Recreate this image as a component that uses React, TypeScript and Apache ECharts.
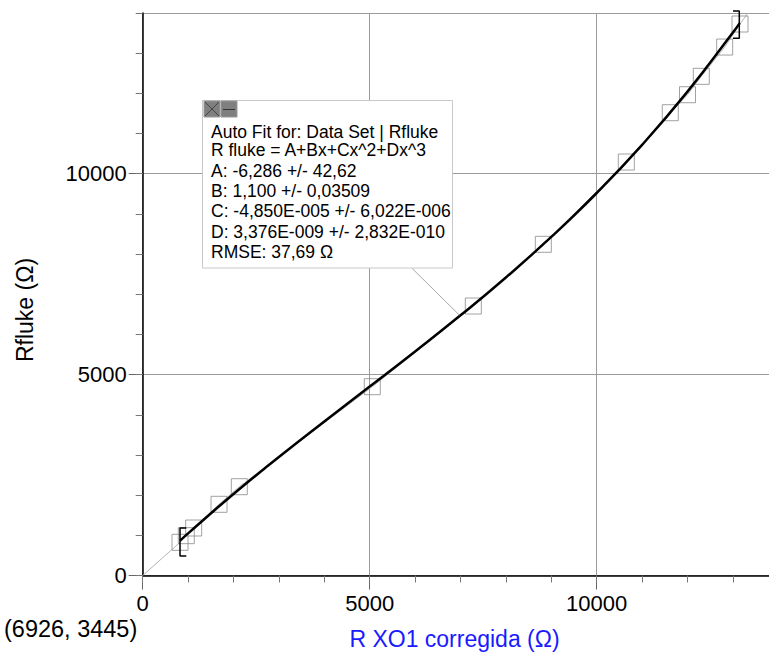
import React, { useEffect, useRef } from 'react';
import * as echarts from 'echarts';

// Measured data points (R XO1 corregida, Rfluke)
const pointX = [822, 960, 1123, 1681, 2128, 5057, 7282, 8824, 10652, 11621, 12000, 12304, 12819, 13157];
const pointY = [826, 991, 1182, 1772, 2210, 4699, 6707, 8243, 10291, 11518, 11966, 12424, 13153, 13726];

// Fitted curve
const fitX = [822, 1000, 2000, 3000, 4000, 5000, 6000, 7000, 8000, 9000, 10000, 11000, 12000, 13000, 13150];
const fitY = [867, 1049, 2027, 2948, 3834, 4703, 5577, 6475, 7418, 8426, 9520, 10719, 12043, 13514, 13749];

// Thin gray connecting line (origin -> points -> top edge)
const guideX = [0, ...pointX, 13333];
const guideY = [0, ...pointY, 14000];

// Fit range brackets
const bracketLeftX = [960, 822, 822, 960];
const bracketLeftY = [1182, 1182, 485, 485];
const bracketRightX = [13002, 13141, 13141, 13002];
const bracketRightY = [14049, 14049, 13370, 13370];

const fitLines = [
  'Auto Fit for: Data Set | Rfluke',
  'R fluke = A+Bx+Cx^2+Dx^3',
  'A: -6,286 +/- 42,62',
  'B: 1,100 +/- 0,03509',
  'C: -4,850E-005 +/- 6,022E-006',
  'D: 3,376E-009 +/- 2,832E-010',
  'RMSE: 37,69 Ω',
];
const fitLineY = [132, 150, 171, 191, 211, 231.5, 251.5];
const cursorLabel = '(6926, 3445)';
const xName = 'R XO1 corregida (Ω)';
const yName = 'Rfluke (Ω)';

const FONT = '"Liberation Sans", Arial, sans-serif';
const OY = 40; // container is shifted up by this amount so grids can extend past the page edge

const pairs = (xs: number[], ys: number[]) => xs.map((x, i) => [x, ys[i]]);
const plain = (v: number) => String(v);

export default function App() {
  const ref = useRef<HTMLDivElement>(null);
  useEffect(() => {
    if (!ref.current) return;
    const chart = echarts.init(ref.current, null, { renderer: 'svg' });
    const gridLeft = 142.7;
    const gridW = 635.6;
    const option: any = {
      animation: false,
      backgroundColor: '#fff',
      grid: [
        { left: gridLeft, top: 13 + OY, width: gridW, height: 562.5 },
        { left: gridLeft, top: -27.2 + OY, width: gridW, height: 602.7 },
      ],
      xAxis: [
        {
          gridIndex: 0, type: 'value', min: 0, max: 14000, interval: 5000, position: 'bottom',
          axisLine: { show: true, onZero: false, lineStyle: { color: '#000', width: 1.5 } },
          axisTick: { show: true, length: 14, lineStyle: { color: '#666', width: 1 } },
          axisLabel: { show: true, margin: 17, fontSize: 22, color: '#000', fontFamily: FONT, showMaxLabel: false, formatter: plain },
          splitLine: { show: true, lineStyle: { color: '#9a9a9a', width: 1 } },
        },
        {
          gridIndex: 0, type: 'value', min: 0, max: 14000, interval: 1000, position: 'bottom',
          axisLine: { show: true, onZero: false, lineStyle: { color: 'rgba(0,0,0,0)' } },
          axisTick: { show: true, length: 7, lineStyle: { color: '#777', width: 1 } },
          axisLabel: { show: false },
          splitLine: { show: false },
        },
        { gridIndex: 1, type: 'value', min: 0, max: 14000, show: false },
      ],
      yAxis: [
        {
          gridIndex: 0, type: 'value', min: 0, max: 14000, interval: 5000, position: 'left',
          axisLine: { show: true, onZero: false, lineStyle: { color: '#000', width: 1.5 } },
          axisTick: { show: false },
          axisLabel: { show: false },
          splitLine: { show: true, lineStyle: { color: '#9a9a9a', width: 1 } },
        },
        {
          gridIndex: 1, type: 'value', min: 0, max: 15000, interval: 5000, position: 'left',
          axisLine: { show: true, onZero: false, lineStyle: { color: 'rgba(0,0,0,0)' } },
          axisTick: { show: true, length: 14, lineStyle: { color: '#666', width: 1 } },
          axisLabel: { show: true, margin: 16, fontSize: 22, color: '#000', fontFamily: FONT, showMaxLabel: false, formatter: plain },
          splitLine: { show: false },
        },
        {
          gridIndex: 1, type: 'value', min: 0, max: 15000, interval: 1000, position: 'left',
          axisLine: { show: true, onZero: false, lineStyle: { color: 'rgba(0,0,0,0)' } },
          axisTick: { show: true, length: 7, lineStyle: { color: '#777', width: 1 } },
          axisLabel: { show: false },
          splitLine: { show: false },
        },
      ],
      series: [
        {
          type: 'line', xAxisIndex: 0, yAxisIndex: 0, silent: true,
          data: pairs(guideX, guideY), showSymbol: false, symbol: 'none',
          lineStyle: { color: '#b4b4b4', width: 1 }, z: 1,
        },
        {
          type: 'scatter', xAxisIndex: 0, yAxisIndex: 0, silent: true,
          data: pairs(pointX, pointY), symbol: 'rect', symbolSize: 16,
          itemStyle: { color: 'rgba(0,0,0,0)', borderColor: '#8a8a8a', borderWidth: 1 }, z: 2,
        },
        {
          type: 'line', xAxisIndex: 0, yAxisIndex: 0, silent: true,
          data: pairs(fitX, fitY), smooth: true, showSymbol: false, symbol: 'none',
          lineStyle: { color: '#000', width: 2.5 }, z: 3,
        },
        {
          type: 'line', xAxisIndex: 0, yAxisIndex: 0, silent: true, clip: false,
          data: pairs(bracketLeftX, bracketLeftY), showSymbol: false, symbol: 'none',
          lineStyle: { color: '#000', width: 1.5 }, z: 4,
        },
        {
          type: 'line', xAxisIndex: 0, yAxisIndex: 0, silent: true, clip: false,
          data: pairs(bracketRightX, bracketRightY), showSymbol: false, symbol: 'none',
          lineStyle: { color: '#000', width: 1.5 }, z: 4,
        },
      ],
      graphic: [
        { type: 'line', shape: { x1: 411.7, y1: 268 + OY, x2: 459.3, y2: 315 + OY }, style: { stroke: '#a8a8a8', lineWidth: 1 }, z: 50 },
        { type: 'rect', shape: { x: 202.5, y: 100.5 + OY, width: 250, height: 167.5 }, style: { fill: '#fff', stroke: '#c8c8c8', lineWidth: 1 }, z: 51 },
        { type: 'rect', shape: { x: 204, y: 101 + OY, width: 16, height: 16 }, style: { fill: '#7f7f7f', stroke: '#9a9a9a', lineWidth: 1 }, z: 52 },
        { type: 'line', shape: { x1: 205, y1: 102 + OY, x2: 219, y2: 116 + OY }, style: { stroke: '#454545', lineWidth: 1 }, z: 53 },
        { type: 'line', shape: { x1: 219, y1: 102 + OY, x2: 205, y2: 116 + OY }, style: { stroke: '#454545', lineWidth: 1 }, z: 53 },
        { type: 'rect', shape: { x: 221, y: 101 + OY, width: 16, height: 16 }, style: { fill: '#7f7f7f', stroke: '#9a9a9a', lineWidth: 1 }, z: 52 },
        { type: 'line', shape: { x1: 223, y1: 109.5 + OY, x2: 235, y2: 109.5 + OY }, style: { stroke: '#333', lineWidth: 1 }, z: 53 },
        ...fitLines.map((t, i) => ({
          type: 'text', x: 211, y: fitLineY[i] + OY, z: 54,
          style: { text: t, fill: '#000', font: `17.5px ${FONT}`, verticalAlign: 'middle', align: 'left' },
        })),
        {
          type: 'text', x: 454.5, y: 639 + OY, z: 54,
          style: { text: xName, fill: '#1a1aff', font: `23px ${FONT}`, align: 'center', verticalAlign: 'middle' },
        },
        {
          type: 'text', x: 25, y: 310 + OY, rotation: Math.PI / 2, z: 54,
          style: { text: yName, fill: '#000', font: `23px ${FONT}`, align: 'center', verticalAlign: 'middle' },
        },
        {
          type: 'text', x: 4, y: 629 + OY, z: 54,
          style: { text: cursorLabel, fill: '#000', font: `23.5px ${FONT}`, align: 'left', verticalAlign: 'middle' },
        },
      ],
    };
    chart.setOption(option);
    return () => chart.dispose();
  }, []);
  return (
    <div
      ref={ref}
      style={{ position: 'fixed', left: 0, top: -OY, width: 800, height: 652 + OY, background: '#fff' }}
    />
  );
}
